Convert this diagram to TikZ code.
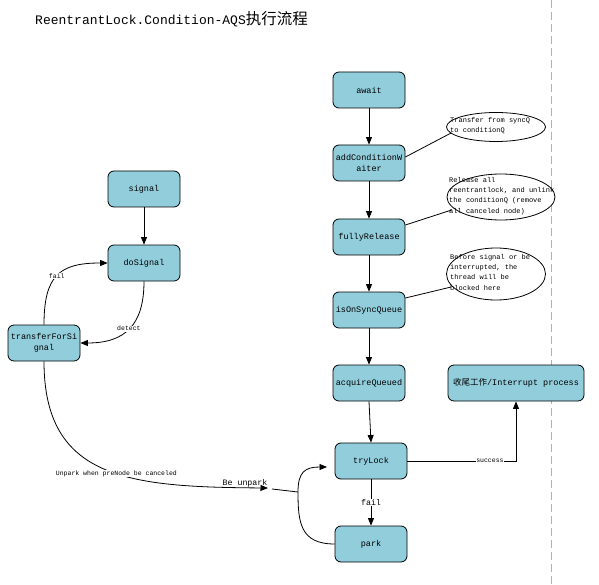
\documentclass[tikz,border=0pt]{standalone}
\usepackage{fontspec}
\setmonofont{Liberation Mono}
\newfontfamily\cjk{Noto Sans CJK SC}
\usetikzlibrary{arrows.meta,shapes.geometric,calc}
\definecolor{boxblue}{RGB}{146,205,220}
\begin{document}
\begin{tikzpicture}[x=1pt,y=-1pt,
  box/.style={draw=black, fill=boxblue, rounded corners=6pt, minimum width=72pt, minimum height=36pt,
    inner sep=1pt, align=center, line width=0.8pt, font=\ttfamily\fontsize{8.5}{11.5}\selectfont},
  bubble/.style={draw=black, ellipse, fill=white, inner sep=0pt, line width=0.8pt},
  btext/.style={align=left, inner sep=0pt, font=\ttfamily\fontsize{7}{10.3}\selectfont},
  lbl/.style={fill=white, inner sep=0.6pt, font=\ttfamily\fontsize{6.5}{8}\selectfont},
  arr/.style={-{Triangle[length=7.5pt,width=6pt]}, line width=0.8pt},
  conn/.style={line width=0.8pt}
]
\useasboundingbox[fill=white] (0,0) rectangle (599,585);
\draw[gray!60, line width=0.8pt, dash pattern=on 8pt off 4pt] (551,0) -- (551,585);

\node[anchor=west, inner sep=0pt] (title) at (35,19)
  {\ttfamily\fontsize{13}{15}\selectfont ReentrantLock.Condition-AQS{\cjk\fontsize{15.5}{16}\selectfont 执行流程}};

% right column
\node[box] (await) at (369,90) {await};
\node[box] (acw) at (369,163) {addConditionW\\aiter};
\node[box] (fr) at (369,237) {fullyRelease};
\node[box] (isq) at (369,310) {isOnSyncQueue};
\node[box] (aq) at (369,383) {acquireQueued};
\node[box] (tl) at (371,461) {tryLock};
\node[box] (park) at (371,544) {park};
\node[box, minimum width=136pt] (fin) at (516,383) {{\cjk\fontsize{8.5}{11}\selectfont 收尾工作}/Interrupt process};

% left column
\node[box] (sig) at (144,189) {signal};
\node[box] (dos) at (144,263) {doSignal};
\node[box] (tfs) at (44,343) {transferForSi\\gnal};

% bubbles
\node[bubble, minimum width=99pt, minimum height=29pt] (e1) at (496,127) {};
\node[btext, anchor=north west] (t1) at (450,117) {Transfer from syncQ\\to conditionQ};
\node[bubble, minimum width=108pt, minimum height=46pt] (e2) at (501,197) {};
\node[btext, anchor=north west] (t2) at (449,177) {Release all\\reentrantlock, and unlink\\the conditionQ (remove\\all canceled node)};
\node[bubble, minimum width=99pt, minimum height=52pt] (e3) at (496,274) {};
\node[btext, anchor=north west] (t3) at (450,254) {Before signal or be\\interrupted, the\\thread will be\\blocked here};

\draw[conn] ($(acw.east)+(0,-6)$) -- ($(e1.west)+(5,6)$);
\draw[conn] ($(fr.east)+(0,-12)$) -- ($(e2.west)+(5,13)$);
\draw[conn] ($(isq.east)+(0,-12)$) -- ($(e3.west)+(5,13)$);

% main flow
\draw[arr] (await) -- (acw);
\draw[arr] (acw) -- (fr);
\draw[arr] (fr) -- (isq);
\draw[arr] (isq) -- (aq);
\draw[arr] (aq.south) -- (tl.north);
\draw[arr] (tl) -- node[lbl, font=\ttfamily\fontsize{8.3}{10}\selectfont]{fail} (park);
\coordinate (corner) at (tl.east -| fin.south);
\draw[arr] (tl.east) -- node[lbl, pos=0.76]{success} (corner) -- (fin.south);

% park loop
\coordinate (m) at (298,492);
\coordinate (tlin) at (327,467);
\draw[arr] (park.west) .. controls (300,544) and (298,522) .. (m) .. controls (298,472) and (305,467) .. (tlin);

% left loop
\draw[arr] (sig) -- (dos);
\draw[arr] (dos.south) .. controls (144,325) and (125,343) .. node[lbl, pos=0.5]{detect} (tfs.east);
\draw[arr] (tfs.north) .. controls (44,275) and (60,263) .. node[lbl, pos=0.48]{fail} (dos.west);

% unpark
\coordinate (u) at (268,488);
\coordinate (u2) at (272,489);
\draw[arr] (tfs.south) .. controls (44,480) and (130,487) .. node[lbl, pos=0.55]{Unpark when preNode be canceled} (u);
\draw[conn] (u2) -- (m);
\node[inner sep=0pt, font=\ttfamily\fontsize{8.3}{10}\selectfont] (bu) at (245,483) {Be unpark};
\end{tikzpicture}
\end{document}
